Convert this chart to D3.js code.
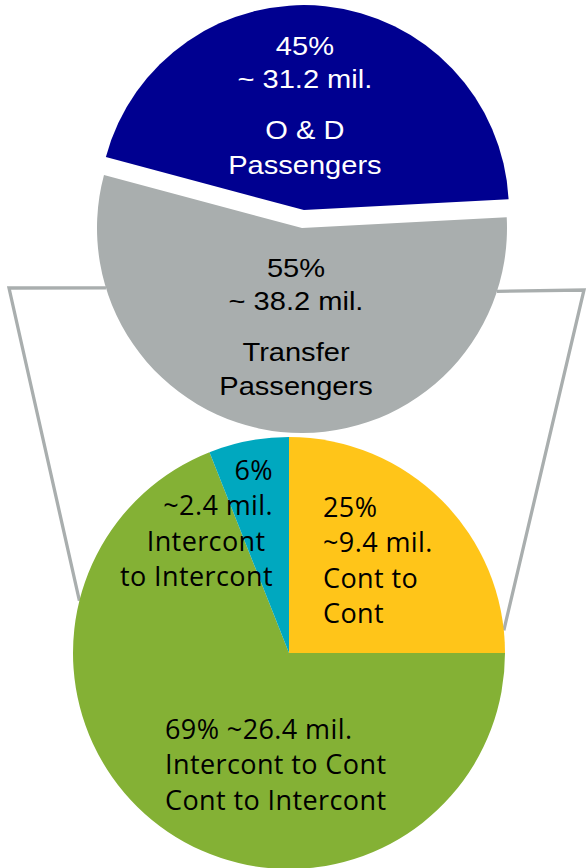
<!DOCTYPE html>
<html>
<head>
<meta charset="utf-8">
<script src="https://cdn.jsdelivr.net/npm/d3@7/dist/d3.min.js"></script>
<style>
  html, body { margin: 0; padding: 0; background: #fff; }
  svg { display: block; }
  text { white-space: pre; }
</style>
</head>
<body>
<div id="chart"></div>
<script>
// passengers split (top pie)
var topShares = [45, 55];
var topMillions = [31.2, 38.2];
var topLabels = [["O & D", "Passengers"], ["Transfer", "Passengers"]];
var topColors = ["#000090", "#a9aeae"];
var topTextColors = ["#ffffff", "#000000"];

// transfer breakdown (bottom pie)
var bottomShares = [25, 69, 6];
var bottomMillions = [9.4, 26.4, 2.4];
var bottomLabels = [["Cont to", "Cont"], ["Intercont to Cont", "Cont to Intercont"], ["Intercont ", "to Intercont"]];
var bottomColors = ["#ffc519", "#84b135", "#00a8bf"];

(function () {
    var width = 587,
        height = 868;

    var rad = Math.PI / 180;

    var svg = d3.select("#chart")
        .append("svg")
        .attr("width", width)
        .attr("height", height);

    // layout
    var top = { cx: 302, cy: 228, r: 205, explode: 18, start: -75 * rad };
    var bot = { cx: 289, cy: 653, r: 216 };

    function onCircle(c, angDeg) {
        var a = angDeg * rad;
        return [c.cx + c.r * Math.sin(a), c.cy - c.r * Math.cos(a)];
    }

    // connector lines (behind the pies)
    var line = d3.line();
    var connectors = [
        [onCircle(top, 253), [9, 288], onCircle(bot, 284)],
        [onCircle(top, 108), [584, 290], onCircle(bot, 84)]
    ];
    svg.selectAll(".connector")
        .data(connectors)
        .enter().append("path")
        .attr("class", "connector")
        .attr("d", line)
        .attr("fill", "none")
        .attr("stroke", "#a9aeae")
        .attr("stroke-width", 3.3)
        .attr("stroke-linejoin", "miter");

    // top pie
    var topPie = d3.pie().sort(null)
        .startAngle(top.start)
        .endAngle(top.start + 2 * Math.PI);
    var topArc = d3.arc().innerRadius(0).outerRadius(top.r);

    var topData = topPie(topShares);
    topData.forEach(function (d, i) {
        var mid = (d.startAngle + d.endAngle) / 2;
        var off = i === 0 ? top.explode : 0;
        d.ox = top.cx + off * Math.sin(mid);
        d.oy = top.cy - off * Math.cos(mid);
    });

    var topG = svg.selectAll(".top-slice")
        .data(topData)
        .enter().append("g")
        .attr("class", "top-slice")
        .attr("transform", function (d) { return "translate(" + d.ox + "," + d.oy + ")"; });

    topG.append("path")
        .attr("d", topArc)
        .attr("fill", function (d, i) { return topColors[i]; });

    // label offsets relative to slice origin: [dx, first baseline]
    var topLabelPos = [[1, -155], [-6, 49]];
    topG.each(function (d, i) {
        var g = d3.select(this);
        var lines = [topShares[i] + "%", "~ " + topMillions[i] + " mil."];
        var ys = [0, 33];
        topLabels[i].forEach(function (l, j) {
            lines.push(l);
            ys.push(84 + j * 34.5);
        });
        var t = g.append("g")
            .attr("transform", "translate(" + topLabelPos[i][0] + "," + topLabelPos[i][1] + ") scale(1.14,1)");
        t.selectAll("text")
            .data(lines)
            .enter().append("text")
            .attr("y", function (l, j) { return ys[j]; })
            .attr("text-anchor", "middle")
            .attr("font-family", "'Liberation Sans', Arial, sans-serif")
            .attr("font-size", "25.5px")
            .attr("fill", topTextColors[i])
            .text(function (l) { return l; });
    });

    // bottom pie
    var botPie = d3.pie().sort(null);
    var botArc = d3.arc().innerRadius(0).outerRadius(bot.r);

    var botG = svg.append("g")
        .attr("transform", "translate(" + bot.cx + "," + bot.cy + ")");

    botG.selectAll(".bottom-slice")
        .data(botPie(bottomShares))
        .enter().append("path")
        .attr("class", "bottom-slice")
        .attr("d", botArc)
        .attr("fill", function (d, i) { return bottomColors[i]; });

    // [dx, first baseline, anchor, percent and millions on one line]
    var botLabelPos = [[34, -136, "start", false], [-124, 86, "start", true], [-16, -173, "end", false]];
    bottomShares.forEach(function (s, i) {
        var p = botLabelPos[i];
        var mil = "~" + bottomMillions[i] + " mil.";
        var lines = p[3] ? [s + "% " + mil] : [s + "%", mil];
        lines = lines.concat(bottomLabels[i]);
        botG.append("g")
            .selectAll("text")
            .data(lines)
            .enter().append("text")
            .attr("x", p[0])
            .attr("y", function (l, j) { return p[1] + j * 35.4; })
            .attr("text-anchor", p[2])
            .attr("font-family", "'Open Sans', 'Noto Sans', sans-serif")
            .attr("font-size", "27px")
            .attr("letter-spacing", "0.4px")
            .attr("fill", "#000")
            .text(function (l) { return l; });
    });
})();
</script>
</body>
</html>
